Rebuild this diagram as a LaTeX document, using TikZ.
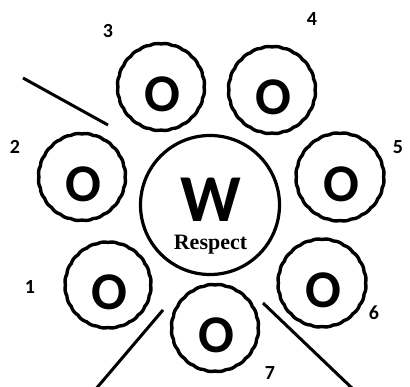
\documentclass[tikz,border=0pt]{standalone}
\usepackage{fontspec}
\setmainfont{Carlito}
\newfontfamily\serifb{Liberation Serif}
\begin{document}
\begin{tikzpicture}[x=1pt,y=-1pt,
  rim/.style={line width=3.4pt, line join=round},
  bigrim/.style={line width=3.2pt},
  olet/.style={font=\fontsize{53}{53}\selectfont\bfseries, inner sep=0pt},
  num/.style={font=\fontsize{20}{20}\selectfont\bfseries, inner sep=0pt},
  bar/.style={line width=3pt}]
\useasboundingbox (0,0) rectangle (410,387);
\fill[white] (0,0) rectangle (410,387);
% small scalloped circles
\foreach \n/\cx/\cy/\r in {1/108/285/42.5, 2/82/177/43, 3/161/87/43, 4/272/90/43, 5/340/177/43.5, 6/322/283/43.5, 7/215/328/43} {
  \coordinate (c\n) at (\cx,\cy);
  \draw[rim] plot[domain=0:360, samples=361] ({\cx+(\r+0.7*abs(sin(12*\x)))*cos(\x)}, {\cy+(\r+0.7*abs(sin(12*\x)))*sin(\x)}) -- cycle;
  \node[olet] (o\n) at (\cx+1,\cy+7) {O};
}
% central circle
\node[circle, draw, bigrim, minimum size=139pt] (w) at (210,205) {};
\node[font=\fontsize{22}{28}\selectfont, align=center, anchor=north, inner sep=0pt] (wl) at (210.5,178)
  {{\fontsize{67}{28}\selectfont\bfseries W}\\{\serifb\bfseries Respect}};
% numbers
\node[num] (n1) at (30,287) {1};
\node[num] (n2) at (15,147) {2};
\node[num] (n3) at (108,31) {3};
\node[num] (n4) at (312,19) {4};
\node[num] (n5) at (398,147) {5};
\node[num] (n6) at (374,313) {6};
\node[num] (n7) at (270,373) {7};
% lines
\coordinate (a1) at (23,78); \coordinate (b1) at (108,125);
\coordinate (a2) at (163,310); \coordinate (b2) at (95,390);
\coordinate (a3) at (263,303); \coordinate (b3) at (354,390);
\draw[bar] (a1) -- (b1);
\draw[bar] (a2) -- (b2);
\draw[bar] (a3) -- (b3);
\end{tikzpicture}
\end{document}
